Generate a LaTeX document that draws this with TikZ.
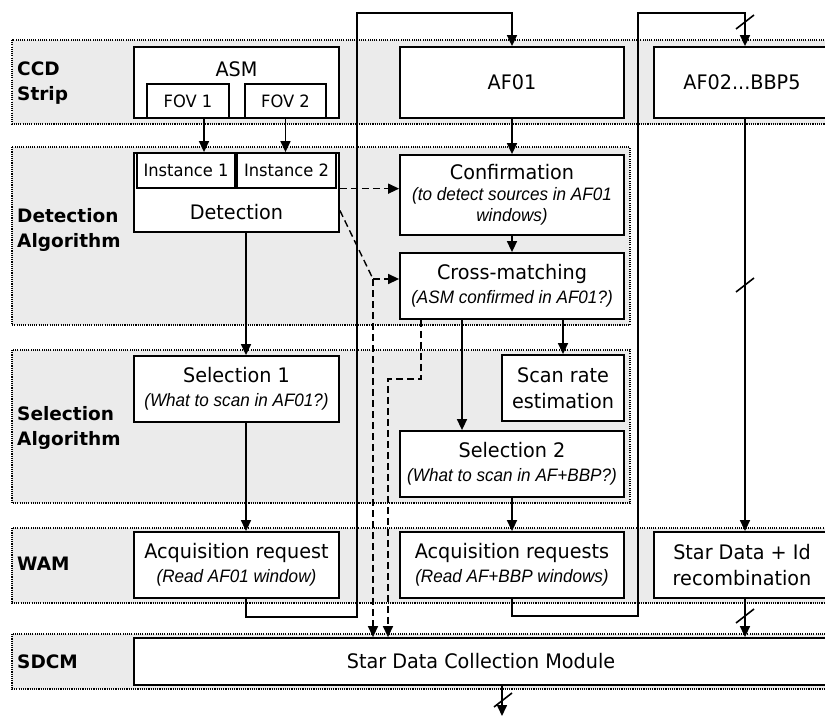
\documentclass[tikz,border=0pt]{standalone}
\usepackage{fontspec}
\usetikzlibrary{arrows.meta}
\newfontfamily\boxfont[FakeStretch=0.96]{DejaVu Sans}
\newfontfamily\headfont{DejaVu Sans}
\newfontfamily\notefont[FakeStretch=0.95]{Liberation Sans}
\newcommand\note[1]{{\notefont\itshape\fontsize{18}{21}\selectfont #1}}

\begin{document}
\begin{tikzpicture}[x=1pt,y=-1pt,
  band/.style={draw, line width=1.1pt, dash pattern=on 1.1pt off 1.1pt, fill=black!8},
  box/.style={draw, line width=1.8pt, fill=white, inner sep=0pt, align=center,
    font=\boxfont\fontsize{20}{24}\selectfont},
  smallbox/.style={box, font=\boxfont\fontsize{17}{20}\selectfont},
  boxtext/.style={inner sep=0pt, anchor=base, font=\boxfont\fontsize{20}{24}\selectfont},
  head/.style={inner sep=0pt, anchor=base west,
    font=\headfont\bfseries\fontsize{18.5}{25}\selectfont},
  conn/.style={line width=1.6pt},
  arr/.style={conn, -{Triangle[length=11pt,width=10pt]}},
  darr/.style={line width=1.4pt, dash pattern=on 7pt off 4pt, -{Triangle[length=11pt,width=10pt]}},
  dline/.style={line width=1.4pt, dash pattern=on 7pt off 4pt},
  slash/.style={line width=1.6pt}]

\useasboundingbox (0,0) rectangle (825,717);
\clip (0,0) rectangle (825,717);

% swim lanes
\draw[band] (12,40) rectangle (840,124);
\draw[band] (12,147) rectangle (630,325);
\draw[band] (12,350) rectangle (630,503);
\draw[band] (12,528) rectangle (840,603);
\draw[band] (12,634) rectangle (840,689);

% lane titles
\node[head] (lccd1) at (17,75) {CCD};
\node[head] (lccd2) at (17,100) {Strip};
\node[head] (ldet1) at (17,222) {Detection};
\node[head] (ldet2) at (17,247) {Algorithm};
\node[head] (lsel1) at (17,420) {Selection};
\node[head] (lsel2) at (17,445) {Algorithm};
\node[head] (lwam) at (17,570) {WAM};
\node[head] (lsdcm) at (17,668) {SDCM};

% helper coordinates for routed connectors
\coordinate (l1a) at (357,617);
\coordinate (l1b) at (357,13);
\coordinate (l2a) at (638,616);
\coordinate (l2b) at (638,13);
\coordinate (dj) at (373,279);
\coordinate (dk) at (388,379);
\coordinate (out) at (502,716);

% boxes
\node[box, minimum width=205pt, minimum height=71pt] (asm) at (236.5,82.5) {};
\node[boxtext] (asmtxt) at (236.5,77) {ASM};
\node[smallbox, minimum width=82pt, minimum height=34pt] (fov1) at (188,101) {FOV 1};
\node[smallbox, minimum width=81pt, minimum height=34pt] (fov2) at (285.5,101) {FOV 2};
\node[box, minimum width=224pt, minimum height=71pt] (af01) at (512,82.5) {AF01};
\node[box, minimum width=176pt, minimum height=71pt] (af02) at (742,82.5) {AF02...BBP5};

\node[box, minimum width=205pt, minimum height=79pt] (det) at (236.5,192.5) {};
\node[smallbox, line width=1.3pt, minimum width=98pt, minimum height=35pt] (inst1) at (186,170.5) {Instance 1};
\node[smallbox, line width=1.3pt, minimum width=99pt, minimum height=35pt] (inst2) at (286.5,170.5) {Instance 2};
\node[boxtext] (dettxt) at (236.5,219) {Detection};

\node[box, minimum width=224pt, minimum height=80pt] (conf) at (512,195)
  {Confirmation\\[-3pt]\note{(to detect sources in AF01}\\[-3pt]\note{windows)}};
\node[box, minimum width=224pt, minimum height=66pt] (cross) at (512,286)
  {Cross-matching\\\note{(ASM confirmed in AF01?)}};
\node[box, minimum width=122pt, minimum height=66pt] (scan) at (563,388)
  {Scan rate\\[2pt]estimation};
\node[box, minimum width=224pt, minimum height=66pt] (sel2) at (512,464)
  {Selection 2\\\note{(What to scan in AF+BBP?)}};
\node[box, minimum width=205pt, minimum height=66pt] (sel1) at (236.5,389)
  {Selection 1\\\note{(What to scan in AF01?)}};
\node[box, minimum width=205pt, minimum height=66pt] (acq1) at (236.5,565)
  {Acquisition request\\\note{(Read AF01 window)}};
\node[box, minimum width=224pt, minimum height=66pt] (acq2) at (512,565)
  {Acquisition requests\\\note{(Read AF+BBP windows)}};
\node[box, minimum width=176pt, minimum height=66pt] (stard) at (742,565)
  {Star Data + Id\\[2pt]recombination};
\node[box, minimum width=694pt, minimum height=47pt] (sdcm) at (481,661.5)
  {Star Data Collection Module};

% solid connectors
\draw[arr] ([xshift=16pt]fov1.south) -- ([xshift=16pt]fov1.south |- det.north);
\draw[arr] (fov2.south) -- (fov2.south |- det.north);
\draw[arr] ([xshift=9.5pt]det.south) -- ([xshift=9.5pt]sel1.north);
\draw[arr] ([xshift=9.5pt]sel1.south) -- ([xshift=9.5pt]acq1.north);
\draw[arr] (af01.south) -- (conf.north);
\draw[arr] (conf.south) -- (cross.north);
\draw[arr] ([xshift=-50pt]cross.south) -- ([xshift=-50pt]cross.south |- sel2.north);
\draw[arr] (cross.south -| scan.north) -- (scan.north);
\draw[arr] (sel2.south) -- (acq2.north);
\draw[arr] ([xshift=9.5pt]acq1.south) |- (l1a) -- (l1b) -| (af01.north);
\draw[arr] (acq2.south) |- (l2a) -- (l2b) -| ([xshift=3pt]af02.north);
\draw[arr] ([xshift=3pt]af02.south) -- ([xshift=3pt]stard.north);
\draw[arr] ([xshift=3pt]stard.south) -- ([xshift=3pt]sdcm.north -| stard.south);
\draw[arr] (out |- sdcm.south) -- (out);

% bus-width marks
\draw[slash] (745,22) ++(-9,7) -- ++(18,-14);
\draw[slash] (745,285) ++(-9,7) -- ++(18,-14);
\draw[slash] (745,616) ++(-9,7) -- ++(18,-14);
\draw[slash] (503,700) ++(-9,7) -- ++(18,-14);

% dashed connectors
\draw[darr] (det.east |- inst1.south) -- (conf.west |- inst1.south);
\draw[dline] ([yshift=-18pt]det.east) -- (dj);
\draw[darr] (dj) -- (dj -| cross.west);
\draw[darr] (dj) -- (dj |- sdcm.north);
\draw[darr] ([xshift=-91pt]cross.south) |- (dk) -- (dk |- sdcm.north);
\end{tikzpicture}
\end{document}
